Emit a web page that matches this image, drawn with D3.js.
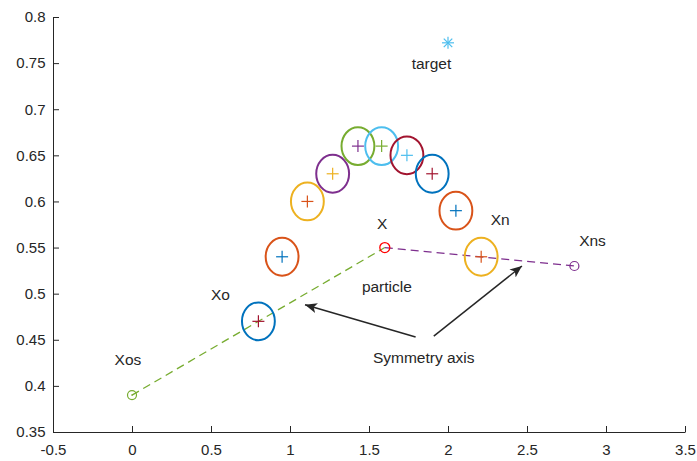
<!DOCTYPE html>
<html>
<head>
<meta charset="utf-8">
<script src="https://cdn.jsdelivr.net/npm/d3@7"></script>
<style>
  body { margin: 0; background: #fff; }
  svg text { font-family: 'Liberation Sans', Arial, sans-serif; }
</style>
</head>
<body>
<svg id="chart" width="697" height="461"></svg>
<script>
// particle positions (cross markers) and their surrounding ellipses
const particleX = [0.80, 0.95, 1.11, 1.27, 1.43, 1.58, 1.74, 1.90, 2.05, 2.21];
const particleY = [0.47, 0.54, 0.60, 0.63, 0.66, 0.66, 0.65, 0.63, 0.59, 0.54];
const ellipseColors = ['#0072BD', '#D95319', '#EDB120', '#7E2F8E', '#77AC30', '#4DBEEE', '#A2142F', '#0072BD', '#D95319', '#EDB120'];
const crossColors = ['#A2142F', '#0072BD', '#D95319', '#EDB120', '#7E2F8E', '#77AC30', '#4DBEEE', '#A2142F', '#0072BD', '#D95319'];
const ellipseRx = 0.104;
const ellipseRy = 0.0205;

// symmetry lines
const greenLine = [[0, 0.39], [1.6, 0.55]];
const purpleLine = [[1.6, 0.55], [2.8, 0.53]];
const target = [2.0, 0.772];

// text labels [x, y, text]
const labels = [
  [-0.11, 0.428, 'Xos'],
  [0.5, 0.499, 'Xo'],
  [1.55, 0.576, 'X'],
  [2.27, 0.580, 'Xn'],
  [2.83, 0.558, 'Xns'],
  [1.455, 0.508, 'particle'],
  [1.525, 0.431, 'Symmetry axis'],
  [1.77, 0.749, 'target']
];

// arrows [x1, y1, x2, y2]
const arrows = [
  [1.795, 0.453, 1.095, 0.488],
  [1.91, 0.454, 2.468, 0.530]
];

const xTicks = [-0.5, 0, 0.5, 1, 1.5, 2, 2.5, 3, 3.5];
const yTicks = [0.35, 0.4, 0.45, 0.5, 0.55, 0.6, 0.65, 0.7, 0.75, 0.8];

const svg = d3.select('#chart');
const margin = { left: 53, right: 12, top: 17, bottom: 29 };
const width = 697 - margin.left - margin.right;
const height = 461 - margin.top - margin.bottom;

const x = d3.scaleLinear().domain([-0.5, 3.5]).range([0, width]);
const y = d3.scaleLinear().domain([0.35, 0.8]).range([height, 0]);

const g = svg.append('g').attr('transform', `translate(${margin.left}, ${margin.top})`);
const axisColor = '#262626';

// axes, ticks inward like MATLAB
const xAxis = g.append('g')
  .attr('transform', `translate(0, ${height})`)
  .call(d3.axisBottom(x).tickValues(xTicks).tickSizeInner(-6).tickSizeOuter(0).tickPadding(12.5).tickFormat(d => d));
const yAxis = g.append('g')
  .call(d3.axisLeft(y).tickValues(yTicks).tickSizeInner(-6).tickSizeOuter(0).tickPadding(7.5).tickFormat(d => d));
[xAxis, yAxis].forEach(a => {
  a.selectAll('path, line').attr('stroke', axisColor).attr('stroke-width', 1);
  a.selectAll('text').attr('fill', axisColor).attr('font-size', 15);
});

// dashed lines
const line = d3.line().x(d => x(d[0])).y(d => y(d[1]));
g.append('path').datum(greenLine).attr('d', line)
  .attr('fill', 'none').attr('stroke', '#77AC30').attr('stroke-width', 1.3).attr('stroke-dasharray', '8,5');
g.append('path').datum(purpleLine).attr('d', line)
  .attr('fill', 'none').attr('stroke', '#7E2F8E').attr('stroke-width', 1.3).attr('stroke-dasharray', '8,5');

// endpoint circles
g.append('circle').attr('cx', x(greenLine[0][0])).attr('cy', y(greenLine[0][1])).attr('r', 4.5)
  .attr('fill', 'none').attr('stroke', '#77AC30').attr('stroke-width', 1.2);
g.append('circle').attr('cx', x(greenLine[0][0])).attr('cy', y(greenLine[0][1])).attr('r', 0.8).attr('fill', '#77AC30');
g.append('circle').attr('cx', x(purpleLine[1][0])).attr('cy', y(purpleLine[1][1])).attr('r', 4.5)
  .attr('fill', 'none').attr('stroke', '#7E2F8E').attr('stroke-width', 1.2);
g.append('circle').attr('cx', x(greenLine[1][0])).attr('cy', y(greenLine[1][1])).attr('r', 5)
  .attr('fill', 'none').attr('stroke', '#FF0000').attr('stroke-width', 1.3);

// ellipses
const particles = particleX.map((px, i) => ({ x: px, y: particleY[i], ec: ellipseColors[i], cc: crossColors[i] }));
g.selectAll('ellipse.p').data(particles).enter().append('ellipse')
  .attr('class', 'p')
  .attr('cx', d => x(d.x)).attr('cy', d => y(d.y))
  .attr('rx', x(ellipseRx) - x(0)).attr('ry', y(0) - y(ellipseRy))
  .attr('fill', 'none').attr('stroke', d => d.ec).attr('stroke-width', 2);

// crosses
const cross = g.selectAll('g.cross').data(particles).enter().append('g')
  .attr('class', 'cross')
  .attr('transform', d => `translate(${x(d.x)}, ${y(d.y)})`)
  .attr('stroke', d => d.cc).attr('stroke-width', 1.2);
cross.append('line').attr('x1', -6).attr('x2', 6);
cross.append('line').attr('y1', -6).attr('y2', 6);

// target asterisk
const star = g.append('g').attr('transform', `translate(${x(target[0])}, ${y(target[1])})`)
  .attr('stroke', '#4DBEEE').attr('stroke-width', 1.2);
[0, 45, 90, 135].forEach(a => {
  const r = 6, t = a * Math.PI / 180;
  star.append('line').attr('x1', -r * Math.cos(t)).attr('y1', -r * Math.sin(t))
    .attr('x2', r * Math.cos(t)).attr('y2', r * Math.sin(t));
});

// arrows
const defs = svg.append('defs');
defs.append('marker').attr('id', 'head').attr('viewBox', '0 0 12 10')
  .attr('refX', 12).attr('refY', 5).attr('markerWidth', 12).attr('markerHeight', 10)
  .attr('markerUnits', 'userSpaceOnUse').attr('orient', 'auto')
  .append('path').attr('d', 'M0,0 L12,5 L0,10 L3,5 Z').attr('fill', '#262626');
g.selectAll('line.arrow').data(arrows).enter().append('line')
  .attr('class', 'arrow')
  .attr('x1', d => x(d[0])).attr('y1', d => y(d[1]))
  .attr('x2', d => x(d[2])).attr('y2', d => y(d[3]))
  .attr('stroke', '#262626').attr('stroke-width', 1.5)
  .attr('marker-end', 'url(#head)');

// labels
g.selectAll('text.lab').data(labels).enter().append('text')
  .attr('class', 'lab')
  .attr('x', d => x(d[0])).attr('y', d => y(d[1]))
  .attr('dy', '0.35em')
  .attr('font-size', 15.5).attr('fill', axisColor)
  .text(d => d[2]);
</script>
</body>
</html>
